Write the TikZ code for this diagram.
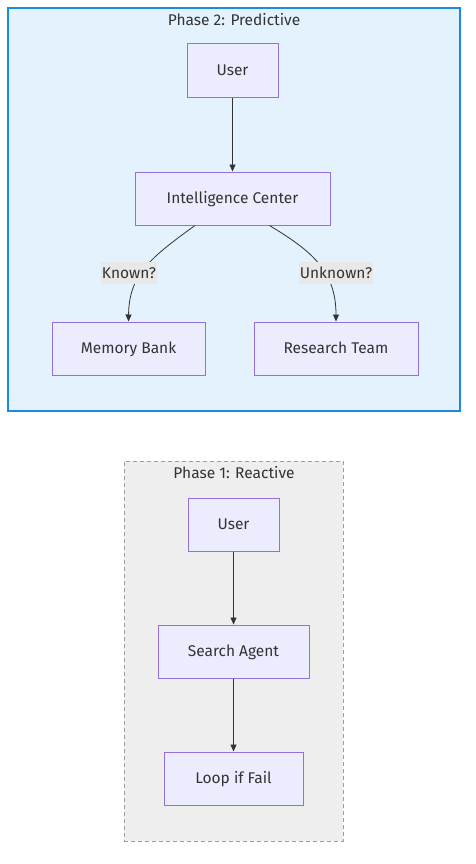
\documentclass[tikz,border=0pt]{standalone}
\usepackage{fontspec}
\setmainfont{Fira Sans}
\usetikzlibrary{arrows.meta}
\definecolor{nodefill}{HTML}{ECECFF}
\definecolor{nodeline}{HTML}{9370DB}
\definecolor{predfill}{HTML}{E3F2FD}
\definecolor{predline}{HTML}{1E88E5}
\definecolor{reacfill}{HTML}{EEEEEE}
\definecolor{reacline}{HTML}{9E9E9E}
\definecolor{edgecol}{HTML}{333333}
\definecolor{lblfill}{HTML}{E8E8E8}
\definecolor{txt}{HTML}{333333}
\begin{document}
\begin{tikzpicture}[x=1pt,y=-1pt,
  fnt/.style={font=\fontsize{15.5}{18}\selectfont,text height=12pt,text depth=2pt},
  box/.style={fnt,draw=nodeline,fill=nodefill,line width=1pt,inner sep=0pt,text=txt},
  title/.style={fnt,text=txt,inner sep=0pt},
  lbl/.style={fnt,fill=lblfill,text=txt,inner sep=1pt,minimum height=22pt},
  edge/.style={draw=edgecol,line width=0.8pt,-{Triangle[length=7pt,width=6pt]}}]
\useasboundingbox (0,0) rectangle (476,864);
\fill[white] (0,0) rectangle (476,864);
% Phase 2
\node[draw=predline,fill=predfill,line width=2pt,minimum width=452pt,minimum height=403pt,inner sep=0pt] (p2) at (234,209.5) {};
\node[title] (p2t) at (234,20.5) {Phase 2: Predictive};
\node[box,minimum width=91pt,minimum height=54pt] (u2) at (232.5,71) {User};
\node[box,minimum width=195pt,minimum height=53pt] (ic) at (232.5,198.5) {Intelligence Center};
\node[box,minimum width=153pt,minimum height=53pt] (mb) at (128.5,348.5) {Memory Bank};
\node[box,minimum width=164pt,minimum height=53pt] (rt) at (336,348.5) {Research Team};
\draw[edge] (u2) -- (ic);
\draw[edge] ([xshift=-37.5pt]ic.south) .. controls (150,258) and (129,275) .. (mb.north);
\draw[edge] ([xshift=37pt]ic.south) .. controls (310,250) and (336,270) .. (rt.north);
\node[lbl,minimum width=52pt] (lk) at (129,273) {Known?};
\node[lbl,minimum width=70pt] (lu) at (336,273) {Unknown?};
% Phase 1
\node[draw=reacline,fill=reacfill,line width=0.8pt,dashed,dash pattern=on 4pt off 3pt,minimum width=219pt,minimum height=380pt,inner sep=0pt] (p1) at (233.5,651) {};
\node[title] (p1t) at (234,473.5) {Phase 1: Reactive};
\node[box,minimum width=91pt,minimum height=53pt] (u1) at (233.5,524.5) {User};
\node[box,minimum width=151pt,minimum height=53pt] (sa) at (233.5,651.5) {Search Agent};
\node[box,minimum width=139pt,minimum height=53pt] (lf) at (233.5,778.5) {Loop if Fail};
\draw[edge] (u1) -- (sa);
\draw[edge] (sa) -- (lf);
\end{tikzpicture}
\end{document}
